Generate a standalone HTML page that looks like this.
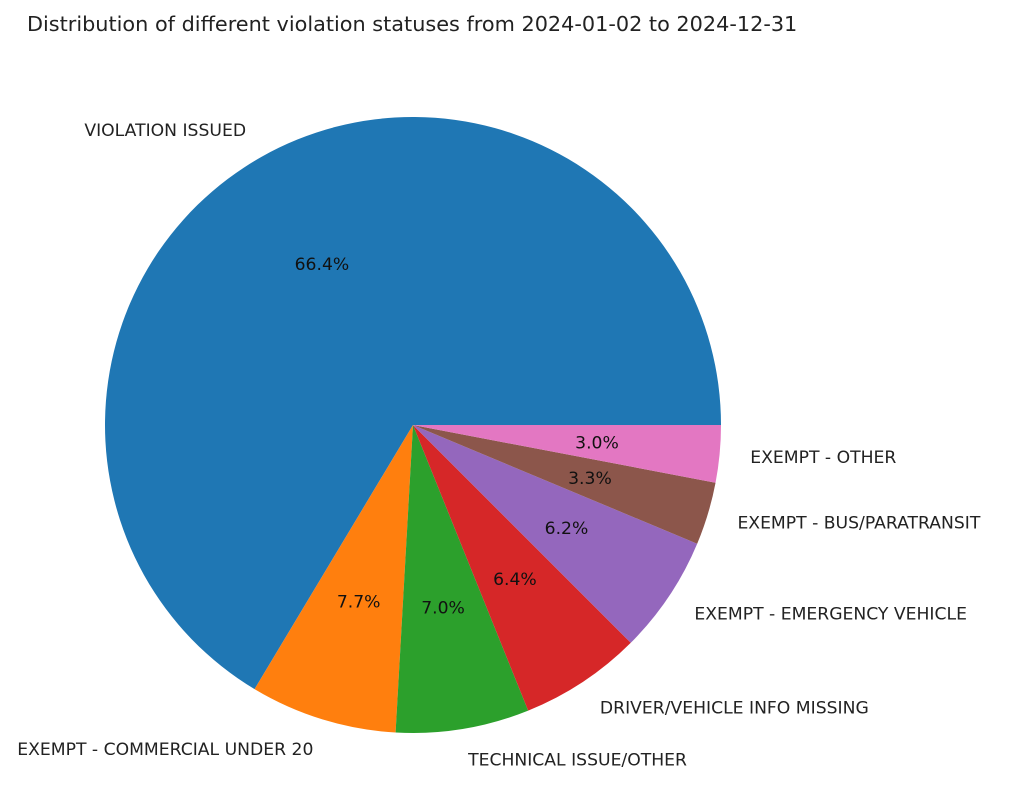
<!DOCTYPE html>
<html><head><meta charset="utf-8">
<style>
html,body{margin:0;padding:0;background:#fff;}
svg{display:block;font-family:"DejaVu Sans","Liberation Sans",sans-serif;}
</style></head>
<body>
<svg id="chart" width="1022" height="797" viewBox="0 0 1022 797">
<text x="27" y="31" font-size="20.8" fill="#222">Distribution of different violation statuses from 2024-01-02 to 2024-12-31</text>
<g id="slices"></g>
<g id="labels"></g>
</svg>
<script>
const categories = ["VIOLATION ISSUED","EXEMPT - COMMERCIAL UNDER 20","TECHNICAL ISSUE/OTHER","DRIVER/VEHICLE INFO MISSING","EXEMPT - EMERGENCY VEHICLE","EXEMPT - BUS/PARATRANSIT","EXEMPT - OTHER"];
const values = [66.4, 7.7, 7.0, 6.4, 6.2, 3.3, 3.0];
const colors = ["#1f77b4","#ff7f0e","#2ca02c","#d62728","#9467bd","#8c564b","#e377c2"];
const cx = 413, cy = 425, R = 308;
const NS = "http://www.w3.org/2000/svg";
const total = values.reduce((a,b)=>a+b,0);
const sg = document.getElementById('slices'), lg = document.getElementById('labels');
function pt(r, deg){const a=deg*Math.PI/180;return [cx+r*Math.cos(a), cy-r*Math.sin(a)];}
let start = 0;
values.forEach((v,i)=>{
  const sweep = v/total*360, end = start+sweep;
  const [x1,y1]=pt(R,start),[x2,y2]=pt(R,end);
  const p=document.createElementNS(NS,'path');
  p.setAttribute('d',`M${cx},${cy} L${x1},${y1} A${R},${R} 0 ${sweep>180?1:0} 0 ${x2},${y2} Z`);
  p.setAttribute('fill',colors[i]);
  
  
  sg.appendChild(p);
  const mid=(start+end)/2;
  const [lx,ly]=pt(R*1.1,mid);
  const t=document.createElementNS(NS,'text');
  t.setAttribute('x',lx);t.setAttribute('y',ly+6);
  t.setAttribute('font-size','17.2');t.setAttribute('fill','#222');
  t.setAttribute('text-anchor',Math.cos(mid*Math.PI/180)>=0?'start':'end');
  t.textContent=categories[i];
  
  
  lg.appendChild(t);
  const [px,py]=pt(R*0.6,mid);
  const q=document.createElementNS(NS,'text');
  q.setAttribute('x',px);q.setAttribute('y',py+6);
  q.setAttribute('font-size','17.2');q.setAttribute('fill','#111');
  q.setAttribute('text-anchor','middle');
  q.textContent=v.toFixed(1)+'%';
  
  
  lg.appendChild(q);
  start=end;
});
</script>
</body></html>
